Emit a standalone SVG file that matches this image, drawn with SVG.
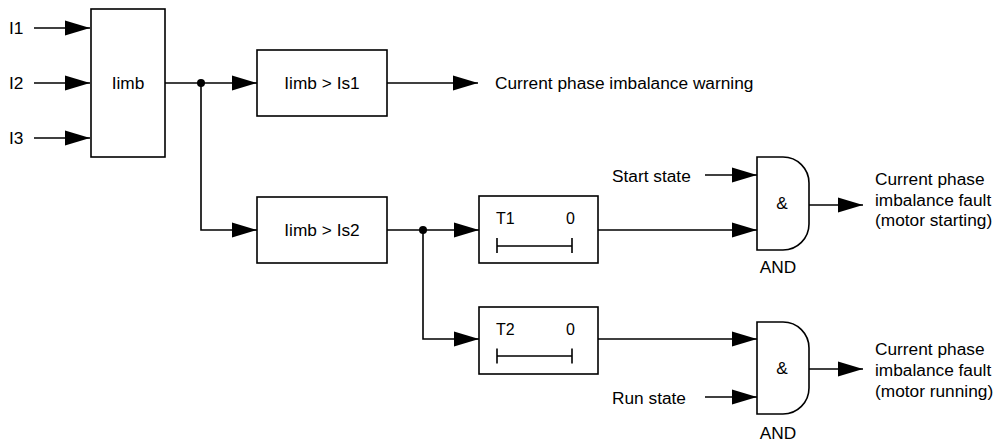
<svg xmlns="http://www.w3.org/2000/svg" width="1004" height="441" viewBox="0 0 1004 441">
<style>
text{font-family:"Liberation Sans",Arial,sans-serif;font-size:17.3px;fill:#000}
.m{text-anchor:middle}
.b{fill:#fff;stroke:#000;stroke-width:1.6}
.w{fill:none;stroke:#000;stroke-width:1.6}
.a{marker-end:url(#arr)}
</style>
<defs>
<marker id="arr" markerUnits="userSpaceOnUse" markerWidth="25" markerHeight="16" refX="25" refY="8" orient="auto" viewBox="0 0 25 16">
<path d="M0,0.5 L25,8 L0,15.5 Z" fill="#000"/>
</marker>
</defs>
<rect width="1004" height="441" fill="#fff"/>
<g id="connectors">
<path class="w a" d="M34,28 H90"/>
<path class="w a" d="M34,83 H90"/>
<path class="w a" d="M34,138 H90"/>
<path class="w a" d="M165,83 H257"/>
<path class="w a" d="M201,83 V230 H257"/>
<circle cx="201" cy="83" r="4" fill="#000"/>
<path class="w a" d="M387,83 H478"/>
<path class="w a" d="M387,230 H479"/>
<path class="w a" d="M423,230 V339 H479"/>
<circle cx="423" cy="230" r="4" fill="#000"/>
<path class="w a" d="M598,230 H757"/>
<path class="w a" d="M598,339 H757"/>
<path class="w a" d="M705,175 H757"/>
<path class="w a" d="M705,397 H757"/>
<path class="w a" d="M809,205 H863"/>
<path class="w a" d="M809,369 H863"/>
</g>
<g id="inputs">
<text x="9" y="34">I1</text>
<text x="9" y="89">I2</text>
<text x="9" y="144">I3</text>
</g>
<g id="iimb">
<rect class="b" x="91" y="9" width="74" height="148"/>
<text class="m" x="128" y="89">Iimb</text>
</g>
<g id="cmp1">
<rect class="b" x="257" y="50" width="130" height="66"/>
<text class="m" x="322" y="89">Iimb &gt; Is1</text>
</g>
<g id="cmp2">
<rect class="b" x="257" y="197" width="130" height="66"/>
<text class="m" x="322" y="236">Iimb &gt; Is2</text>
</g>
<g id="warning">
<text x="495" y="89">Current phase imbalance warning</text>
</g>
<g id="t1">
<rect class="b" x="479" y="196" width="119" height="67"/>
<text x="496" y="224" style="font-size:16px">T1</text>
<text x="566" y="224" style="font-size:16px">0</text>
<path class="w" d="M497,246 H572 M497,238 V253 M572,238 V253"/>
</g>
<g id="t2">
<rect class="b" x="479" y="307" width="119" height="67"/>
<text x="496" y="335" style="font-size:16px">T2</text>
<text x="566" y="335" style="font-size:16px">0</text>
<path class="w" d="M497,356 H572 M497,348.5 V363.5 M572,348.5 V363.5"/>
</g>
<g id="start">
<text x="612" y="182">Start state</text>
</g>
<g id="run">
<text x="612" y="404">Run state</text>
</g>
<g id="and1">
<path class="b" d="M757,157 H783 A26,26 0 0 1 809,183 V224 A26,26 0 0 1 783,250 H757 Z"/>
<text class="m" x="782" y="209">&amp;</text>
<text class="m" x="778" y="273">AND</text>
</g>
<g id="and2">
<path class="b" d="M757,322 H783 A26,26 0 0 1 809,348 V388 A26,26 0 0 1 783,414 H757 Z"/>
<text class="m" x="782" y="374">&amp;</text>
<text class="m" x="778" y="439">AND</text>
</g>
<g id="out1">
<text x="875" y="185">Current phase</text>
<text x="875" y="205.5">imbalance fault</text>
<text x="875" y="226">(motor starting)</text>
</g>
<g id="out2">
<text x="875" y="355">Current phase</text>
<text x="875" y="376">imbalance fault</text>
<text x="875" y="396.5">(motor running)</text>
</g>
</svg>
